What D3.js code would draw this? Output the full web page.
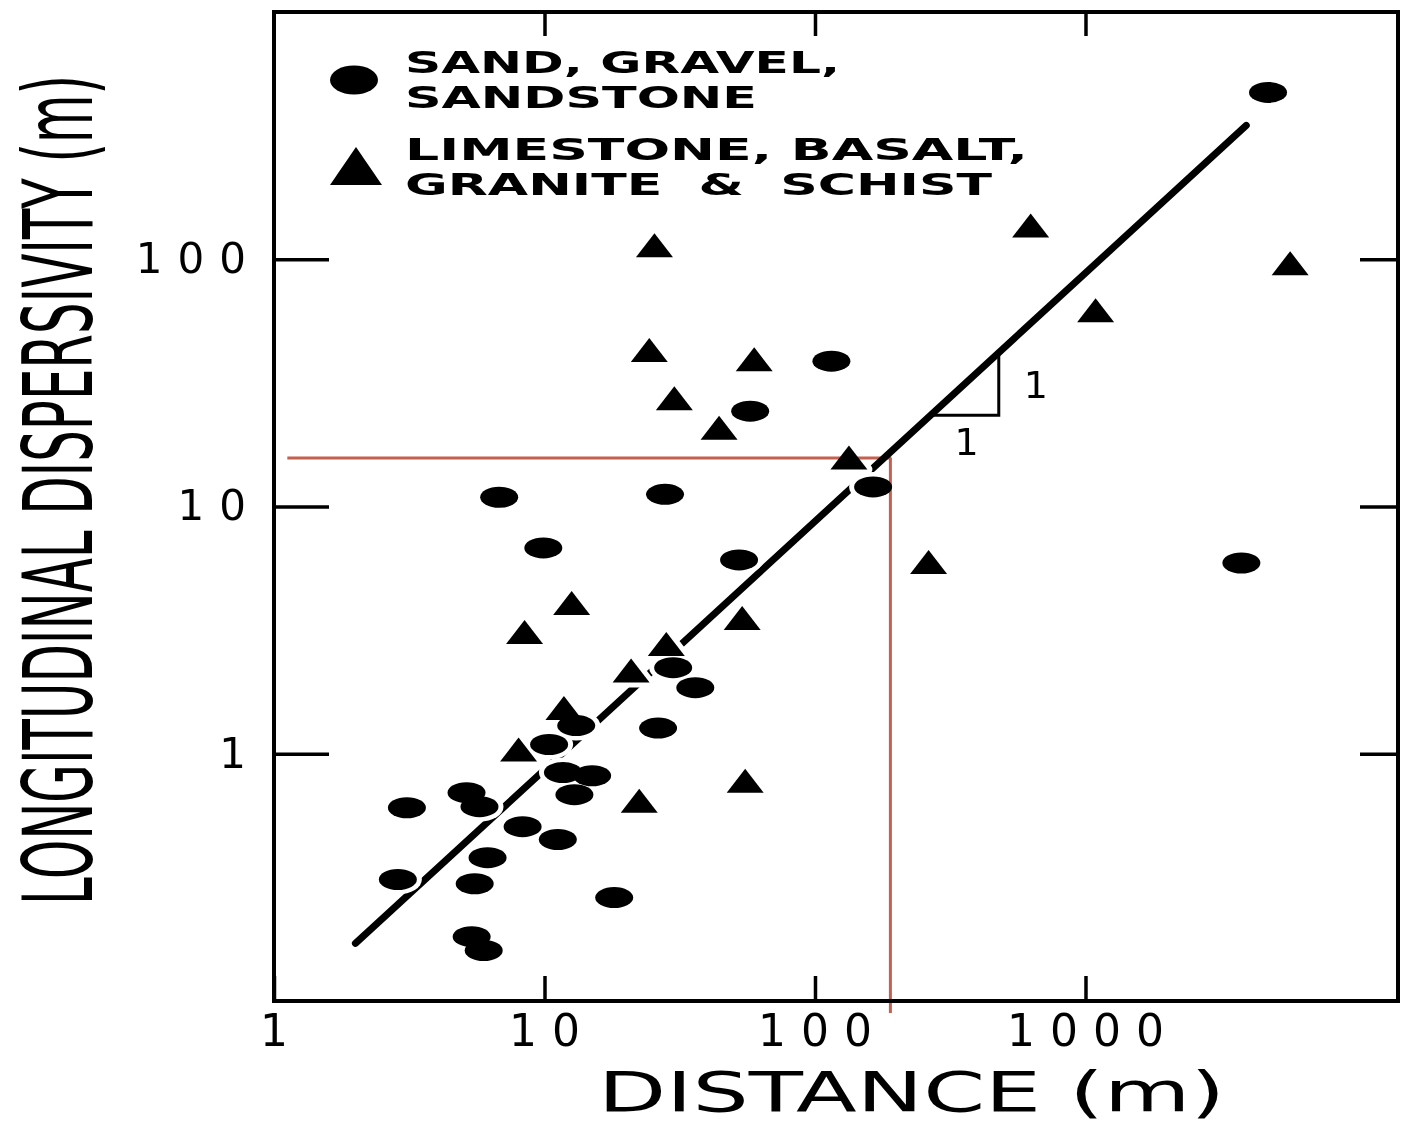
<!DOCTYPE html>
<html>
<head>
<meta charset="utf-8">
<script src="https://cdn.jsdelivr.net/npm/d3@7"></script>
<style>
  body { margin: 0; background: #fff; }
  text { font-family: "DejaVu Sans", sans-serif; fill: #000; }
</style>
</head>
<body>
<script>
// sand, gravel, sandstone (circles)
var sandX = [4730, 115, 57.6, 6.8, 27.9, 164, 9.9, 52.4, 3770, 29.9, 36.1, 26.3, 13.1, 10.4,
             11.7, 15.0, 12.9, 5.15, 5.75, 3.1, 8.3, 11.2, 6.16, 2.87, 5.52, 18.1, 5.38, 5.96];
var sandY = [473, 38.7, 24.3, 10.9, 11.2, 12.0, 6.8, 6.08, 5.91, 2.23, 1.85, 1.27, 1.30, 1.09,
             0.84, 0.815, 0.683, 0.696, 0.611, 0.605, 0.507, 0.45, 0.38, 0.31, 0.298, 0.262, 0.182, 0.16];

// limestone, basalt, granite & schist (triangles)
var rockX = [627, 5710, 1090, 25.5, 24.4, 59.6, 30.2, 44.2, 133.5, 263, 12.6, 8.44, 53.8, 28.2,
             20.9, 11.8, 8.02, 22.4, 55.2];
var rockY = [137, 96.4, 62.2, 114, 42.9, 39.4, 27.4, 20.8, 15.8, 5.97, 4.07, 3.11, 3.54, 2.78,
             2.17, 1.53, 1.04, 0.646, 0.778];

// fitted line ends and the 1:1 slope marker
var fitLine = [[2, 0.171], [3930, 348]];
var slopeCorner = [478, 23.4];

// red read-off lines
var readX = 190, readY = 15.7, readStart = 1.12;

var xTicks = [1, 10, 100, 1000];
var yTicks = [1, 10, 100];
var legendLines = [["SAND, GRAVEL,", "SANDSTONE"], ["LIMESTONE, BASALT,", "GRANITE  &  SCHIST"]];

var w = 1416, h = 1126;

var svg = d3.select("body").append("svg")
    .attr("width", w)
    .attr("height", h);

var x = d3.scaleLog().domain([1, 14300]).range([274, 1398]);
var y = d3.scaleLog().domain([0.1, 1000]).range([1001, 12]);

// fit in log space
var lx0 = Math.log10(fitLine[0][0]), ly0 = Math.log10(fitLine[0][1]);
var lx1 = Math.log10(fitLine[1][0]), ly1 = Math.log10(fitLine[1][1]);
var slope = (ly1 - ly0) / (lx1 - lx0);
function fitY(v) { return Math.pow(10, ly0 + slope * (Math.log10(v) - lx0)); }
function fitX(v) { return Math.pow(10, lx0 + (Math.log10(v) - ly0) / slope); }

// regression line
svg.append("line")
    .attr("x1", x(fitLine[0][0])).attr("y1", y(fitLine[0][1]))
    .attr("x2", x(fitLine[1][0])).attr("y2", y(fitLine[1][1]))
    .attr("stroke", "#000")
    .attr("stroke-width", 7)
    .attr("stroke-linecap", "round");

// slope triangle
var cx = slopeCorner[0], cy = slopeCorner[1];
svg.append("path")
    .attr("d", "M" + x(cx) + "," + y(fitY(cx)) + "L" + x(cx) + "," + y(cy) + "L" + x(fitX(cy)) + "," + y(cy))
    .attr("fill", "none")
    .attr("stroke", "#000")
    .attr("stroke-width", 3);

svg.append("text")
    .attr("x", x(cx) + 37)
    .attr("y", (y(cy) + y(fitY(cx))) / 2 + 14)
    .attr("text-anchor", "middle")
    .attr("font-size", 38)
    .text("1");
svg.append("text")
    .attr("x", (x(cx) + x(fitX(cy))) / 2 + 2)
    .attr("y", y(cy) + 40)
    .attr("text-anchor", "middle")
    .attr("font-size", 38)
    .text("1");

var sand = sandX.map(function(d, i) { return [d, sandY[i]]; });
var rock = rockX.map(function(d, i) { return [d, rockY[i]]; });

function tri(wd, ht) {
  return "M0," + (-ht / 2) + "L" + (wd / 2) + "," + (ht / 2) + "L" + (-wd / 2) + "," + (ht / 2) + "Z";
}

// white halos cut the line around markers
svg.selectAll("ellipse.halo")
   .data(sand)
   .enter()
   .append("ellipse")
   .attr("class", "halo")
   .attr("cx", function(d) { return x(d[0]); })
   .attr("cy", function(d) { return y(d[1]); })
   .attr("rx", 24).attr("ry", 15)
   .attr("fill", "#fff");

svg.selectAll("path.halo")
   .data(rock)
   .enter()
   .append("path")
   .attr("class", "halo")
   .attr("d", tri(37, 24))
   .attr("transform", function(d) { return "translate(" + x(d[0]) + "," + y(d[1]) + ")"; })
   .attr("fill", "#fff")
   .attr("stroke", "#fff")
   .attr("stroke-width", 10)
   .attr("stroke-linejoin", "round");

svg.selectAll("ellipse.sand")
   .data(sand)
   .enter()
   .append("ellipse")
   .attr("class", "sand")
   .attr("cx", function(d) { return x(d[0]); })
   .attr("cy", function(d) { return y(d[1]); })
   .attr("rx", 19).attr("ry", 10.5)
   .attr("fill", "#000");

svg.selectAll("path.rock")
   .data(rock)
   .enter()
   .append("path")
   .attr("class", "rock")
   .attr("d", tri(37, 24))
   .attr("transform", function(d) { return "translate(" + x(d[0]) + "," + y(d[1]) + ")"; })
   .attr("fill", "#000");

// axes: frame plus inward ticks
function styleAxis(g) {
  g.select(".domain").remove();
  g.selectAll(".tick line").attr("stroke", "#000").attr("stroke-width", 3.5);
  g.selectAll(".tick text")
   .attr("font-family", "DejaVu Sans")
   .attr("font-size", 44)
   .attr("letter-spacing", 15)
   .attr("fill", "#000");
}

svg.append("g")
   .attr("transform", "translate(0,1001)")
   .call(d3.axisBottom(x).tickValues(xTicks).tickFormat(d3.format("d")).tickSizeInner(-25).tickSizeOuter(0).tickPadding(14))
   .call(styleAxis)
   .selectAll(".tick text").attr("dx", 7);

svg.append("g")
   .attr("transform", "translate(0,12)")
   .call(d3.axisTop(x).tickValues(xTicks.slice(1)).tickFormat("").tickSizeInner(-24).tickSizeOuter(0))
   .call(styleAxis);

svg.append("g")
   .attr("transform", "translate(274,0)")
   .call(d3.axisLeft(y).tickValues(yTicks).tickFormat(d3.format("d")).tickSizeInner(-55).tickSizeOuter(0).tickPadding(13))
   .call(styleAxis)
   .selectAll(".tick text").attr("font-size", 42);

svg.append("g")
   .attr("transform", "translate(1398,0)")
   .call(d3.axisRight(y).tickValues(yTicks).tickFormat("").tickSizeInner(-38).tickSizeOuter(0))
   .call(styleAxis);

svg.append("rect")
   .attr("x", x(1)).attr("y", y(1000))
   .attr("width", x(14300) - x(1)).attr("height", y(0.1) - y(1000))
   .attr("fill", "none")
   .attr("stroke", "#000")
   .attr("stroke-width", 4);

// red read-off lines
var red = svg.append("g")
   .attr("stroke", "#c4604f")
   .attr("stroke-width", 3)
   .style("mix-blend-mode", "multiply");
red.append("line")
   .attr("x1", x(readStart)).attr("y1", y(readY))
   .attr("x2", x(readX) + 1).attr("y2", y(readY));
red.append("line")
   .attr("x1", x(readX)).attr("y1", y(readY))
   .attr("x2", x(readX)).attr("y2", y(0.1) + 12);

// legend
var legend = svg.append("g");
legend.append("ellipse")
   .attr("cx", 354).attr("cy", 80)
   .attr("rx", 24).attr("ry", 14.5)
   .attr("fill", "#000");
legend.append("path")
   .attr("d", tri(52, 38))
   .attr("transform", "translate(356,166)")
   .attr("fill", "#000");

var legendLen = [[435, 352], [623, 587]];
var legendBase = [[73, 108], [160, 195]];
legendLines.forEach(function(pair, i) {
  pair.forEach(function(t, j) {
    legend.append("text")
       .attr("x", 405)
       .attr("y", legendBase[i][j])
       .attr("font-family", "Liberation Sans")
       .attr("font-weight", "bold")
       .attr("font-size", 30)
       .attr("textLength", legendLen[i][j])
       .attr("lengthAdjust", "spacingAndGlyphs")
       .style("white-space", "pre")
       .text(t);
  });
});

// axis titles
svg.append("text")
   .attr("x", 598)
   .attr("y", 1111)
   .attr("font-family", "Liberation Sans")
   .attr("font-size", 56)
   .attr("textLength", 627)
   .attr("lengthAdjust", "spacingAndGlyphs")
   .text("DISTANCE (m)");

// y title: squeeze the real glyph run to the condensed width of the original
var yTitle = svg.append("text")
   .attr("font-family", "Liberation Sans")
   .attr("font-size", 96)
   .text("LONGITUDINAL DISPERSIVITY (m)");
var natural = yTitle.node().getComputedTextLength();
yTitle.attr("transform", "translate(92,905) rotate(-90) scale(" + (830 / natural) + ",1)");
</script>
</body>
</html>
